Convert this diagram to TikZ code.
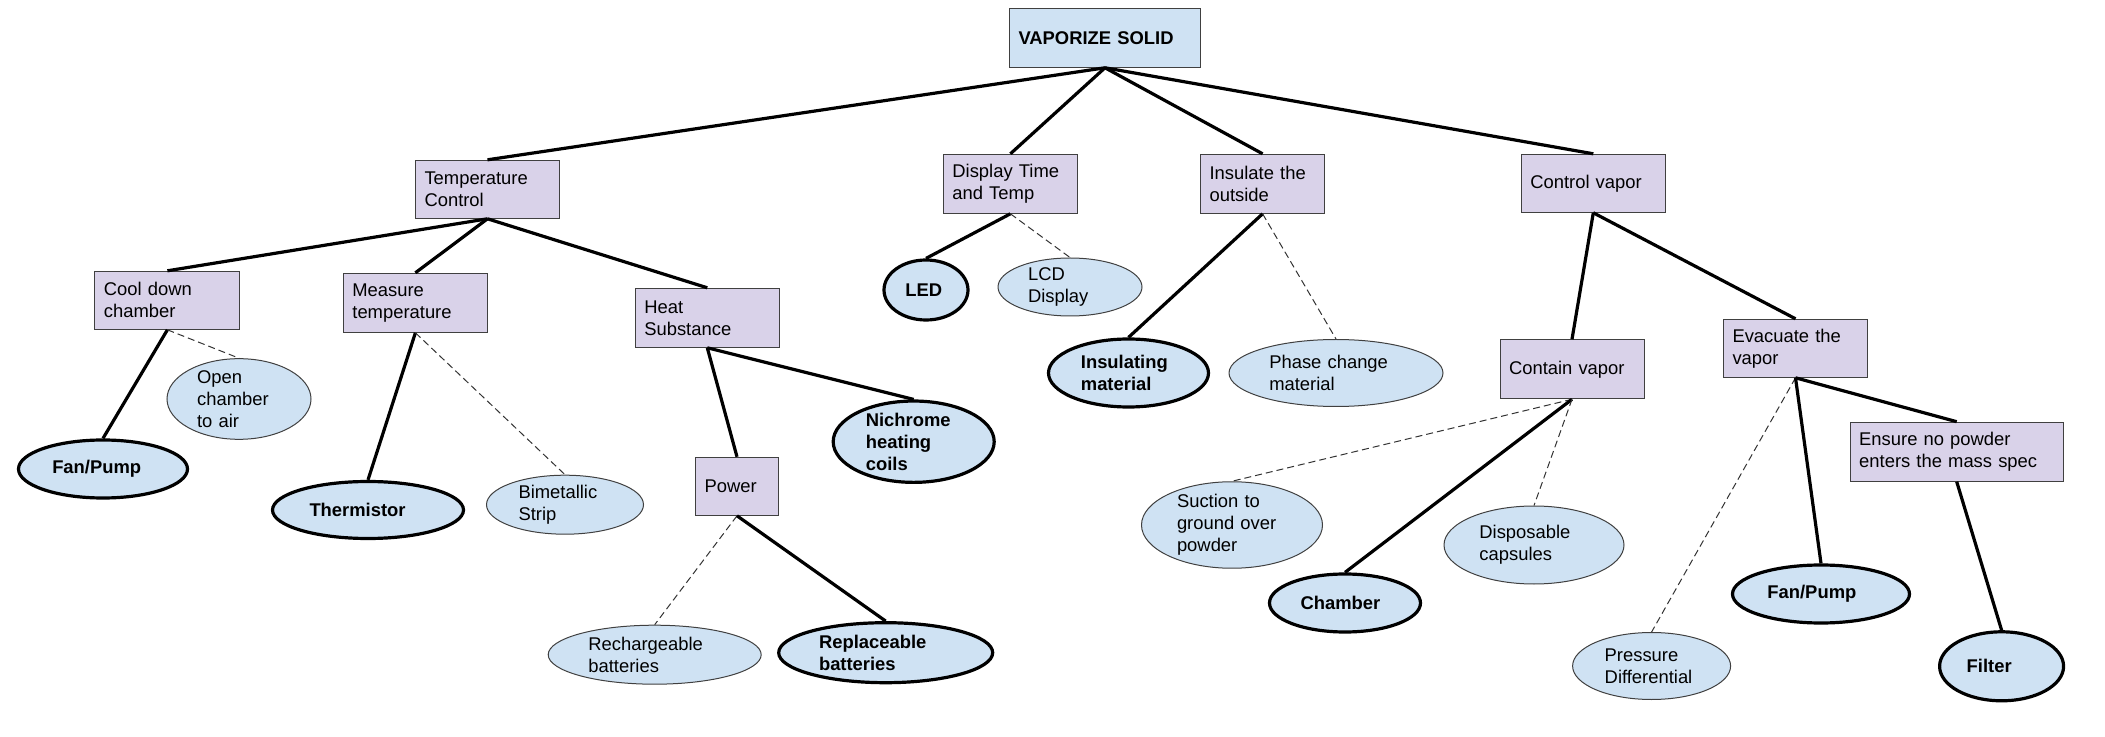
\documentclass[tikz,border=0pt]{standalone}
\usepackage{fontspec}
\setmainfont{Liberation Sans}
\usetikzlibrary{shapes.geometric}
\definecolor{fnFill}{HTML}{D9D2E9}
\definecolor{meansFill}{HTML}{CFE2F3}
\newcommand{\treeFont}{\fontsize{9.2}{11}\selectfont}

\begin{document}
\begin{tikzpicture}[x=0.5pt,y=-0.5pt,
  fn/.style={rectangle, draw=black!75, line width=0.5pt, fill=fnFill, inner xsep=4.5pt, inner ysep=0pt, align=left, font=\treeFont},
  goal/.style={fn, fill=meansFill, font={\treeFont\bfseries}},
  alt/.style={ellipse, draw=black!75, line width=0.5pt, fill=meansFill, inner sep=0pt, align=left, font=\treeFont},
  pick/.style={alt, draw=black, line width=1.6pt, font={\treeFont\bfseries}},
  uses/.style={draw=black, line width=1.6pt},
  could/.style={draw=black!80, line width=0.5pt, dash pattern=on 3.5pt off 2pt}]
\useasboundingbox (0,0) rectangle (2105,737);
\node[goal, minimum width=95.5pt, minimum height=29.5pt, text width=86.5pt] (vs) at (1105,37.8) {VAPORIZE SOLID};
\node[fn, minimum width=72pt, minimum height=29pt, text width=63pt] (tc) at (487.5,189.3) {Temperature\\Control};
\node[fn, minimum width=67pt, minimum height=29.5pt, text width=58pt] (dt) at (1010.4,183.8) {Display Time\\and Temp};
\node[fn, minimum width=62pt, minimum height=29.5pt, text width=53pt] (io) at (1262.6,183.8) {Insulate the\\outside};
\node[fn, minimum width=72pt, minimum height=29pt, text width=63pt] (cv) at (1593.3,183.3) {Control vapor};
\node[fn, minimum width=72.5pt, minimum height=29pt, text width=63.5pt] (cd) at (167.4,300.3) {Cool down\\chamber};
\node[fn, minimum width=72pt, minimum height=29.5pt, text width=63pt] (mt) at (415.4,302.8) {Measure\\temperature};
\node[fn, minimum width=72pt, minimum height=29.5pt, text width=63pt] (hs) at (707.3,317.8) {Heat\\Substance};
\node[fn, minimum width=41.5pt, minimum height=29pt, text width=32.5pt] (pw) at (737,486.3) {Power};
\node[fn, minimum width=72pt, minimum height=29.5pt, text width=63pt] (cn) at (1572,369.3) {Contain vapor};
\node[fn, minimum width=72pt, minimum height=29pt, text width=63pt] (ev) at (1795.5,348.3) {Evacuate the\\vapor};
\node[fn, minimum width=106.5pt, minimum height=29.5pt, text width=97.5pt] (en) at (1956.7,451.7) {Ensure no powder\\enters the mass spec};
\node[pick, minimum width=84.5pt, minimum height=29pt, text width=50.75pt] (fpa) at (103,469) {Fan/Pump};
\node[alt, minimum width=72pt, minimum height=40pt, text width=41.9pt] (oc) at (239,399) {Open\\chamber\\to air};
\node[pick, minimum width=95.5pt, minimum height=28.5pt, text width=58.5pt] (th) at (368,510) {Thermistor};
\node[alt, minimum width=78.5pt, minimum height=29.5pt, text width=46.5pt] (bs) at (565,504.7) {Bimetallic\\Strip};
\node[pick, minimum width=80.5pt, minimum height=40pt, text width=47.9pt] (nc) at (913.7,441.7) {Nichrome\\heating\\coils};
\node[alt, minimum width=106.5pt, minimum height=29.5pt, text width=66.3pt] (rc) at (654.7,654.7) {Rechargeable\\batteries};
\node[pick, minimum width=107pt, minimum height=30pt, text width=66.7pt] (rp) at (885.7,652.7) {Replaceable\\batteries};
\node[pick, minimum width=42pt, minimum height=30pt, text width=20.7pt] (led) at (926,290) {LED};
\node[alt, minimum width=72pt, minimum height=29pt, text width=41.9pt] (lcd) at (1070,287) {LCD\\Display};
\node[pick, minimum width=80pt, minimum height=34pt, text width=47.6pt] (im) at (1128.5,373) {Insulating\\material};
\node[alt, minimum width=107pt, minimum height=33.5pt, text width=66.7pt] (pc) at (1336,373) {Phase change\\material};
\node[alt, minimum width=90.5pt, minimum height=39.5pt, text width=55pt] (sg) at (1232,525) {Suction to\\ground over\\powder};
\node[pick, minimum width=75.5pt, minimum height=29pt, text width=44.4pt] (ch) at (1345,603) {Chamber};
\node[alt, minimum width=90pt, minimum height=39pt, text width=54.6pt] (dc) at (1534,545) {Disposable\\capsules};
\node[alt, minimum width=79pt, minimum height=33.5pt, text width=46.9pt] (pd) at (1651.6,666) {Pressure\\Differential};
\node[pick, minimum width=88.5pt, minimum height=29pt, text width=53.6pt] (fpb) at (1821,594) {Fan/Pump};
\node[pick, minimum width=62pt, minimum height=34.5pt, text width=34.9pt] (fi) at (2001.6,666.3) {Filter};
\draw[uses] (vs.south) -- (tc.north);
\draw[uses] (vs.south) -- (dt.north);
\draw[uses] (vs.south) -- (io.north);
\draw[uses] (vs.south) -- (cv.north);
\draw[uses] (tc.south) -- (cd.north);
\draw[uses] (tc.south) -- (mt.north);
\draw[uses] (tc.south) -- (hs.north);
\draw[uses] (cd.south) -- (fpa.north);
\draw[could] (cd.south) -- (oc.north);
\draw[uses] (mt.south) -- (th.north);
\draw[could] (mt.south) -- (bs.north);
\draw[uses] (hs.south) -- (pw.north);
\draw[uses] (hs.south) -- (nc.north);
\draw[could] (pw.south) -- (rc.north);
\draw[uses] (pw.south) -- (rp.north);
\draw[uses] (dt.south) -- (led.north);
\draw[could] (dt.south) -- (lcd.north);
\draw[uses] (io.south) -- (im.north);
\draw[could] (io.south) -- (pc.north);
\draw[uses] (cv.south) -- (cn.north);
\draw[uses] (cv.south) -- (ev.north);
\draw[could] (cn.south) -- (sg.north);
\draw[uses] (cn.south) -- (ch.north);
\draw[could] (cn.south) -- (dc.north);
\draw[could] (ev.south) -- (pd.north);
\draw[uses] (ev.south) -- (fpb.north);
\draw[uses] (ev.south) -- (en.north);
\draw[uses] (en.south) -- (fi.north);
\end{tikzpicture}
\end{document}
